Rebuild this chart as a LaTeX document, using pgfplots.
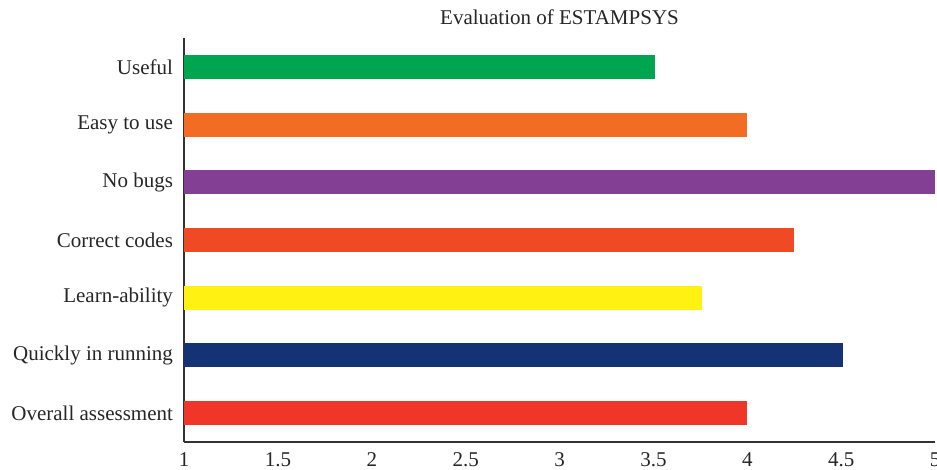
\documentclass[border=0pt]{standalone}
\usepackage{fontspec}
\setmainfont{Liberation Serif}
\usepackage{pgfplots}
\pgfplotsset{compat=1.18}
\usetikzlibrary{calc}
\definecolor{cUseful}{HTML}{00A550}
\definecolor{cEasy}{HTML}{F36C23}
\definecolor{cBugs}{HTML}{833F94}
\definecolor{cCorrect}{HTML}{F04A24}
\definecolor{cLearn}{HTML}{FFF212}
\definecolor{cQuick}{HTML}{133375}
\definecolor{cOverall}{HTML}{EF3628}
\begin{document}
\begin{tikzpicture}
\begin{axis}[
  name=ax,
  scale only axis,
  width=375.5pt, height=202pt,
  xmin=1, xmax=5,
  ymin=-0.5, ymax=6.5,
  xbar, bar width=12pt, bar shift=0pt,
  axis x line*=bottom, axis y line*=left,
  axis line style={draw=black!80, line width=0.8pt},
  xtick={1,1.5,2,2.5,3,3.5,4,4.5,5},
  xticklabels={1,1.5,2,2.5,3,3.5,4,4.5,5},
  ytick={0,1,2,3,4,5,6},
  yticklabels={Overall assessment,Quickly in running,Learn-ability,Correct codes,No bugs,Easy to use,Useful},
  major tick length=0pt,
  tick style={draw=none},
  ticklabel style={font=\fontsize{10.5}{12}\selectfont, text=black!85},
  /pgf/number format/assume math mode=true,
  yticklabel style={xshift=-2pt},
  xticklabel style={yshift=-2pt},
  title={Evaluation of ESTAMPSYS},
  title style={font=\fontsize{10.5}{12}\selectfont, text=black!85, at={(0.5,1)}, anchor=center, yshift=4.5pt},
  clip=true,
]
\addplot[fill=cOverall, draw=none] coordinates {(4.0,0)};
\addplot[fill=cQuick, draw=none] coordinates {(4.51,1)};
\addplot[fill=cLearn, draw=none] coordinates {(3.76,2)};
\addplot[fill=cCorrect, draw=none] coordinates {(4.25,3)};
\addplot[fill=cBugs, draw=none] coordinates {(5.0,4)};
\addplot[fill=cEasy, draw=none] coordinates {(4.0,5)};
\addplot[fill=cUseful, draw=none] coordinates {(3.51,6)};
\end{axis}
\pgfresetboundingbox
\path ($(ax.south west)+(-92pt,-14pt)$) rectangle ($(ax.north east)+(1pt,19pt)$);
\end{tikzpicture}
\end{document}
